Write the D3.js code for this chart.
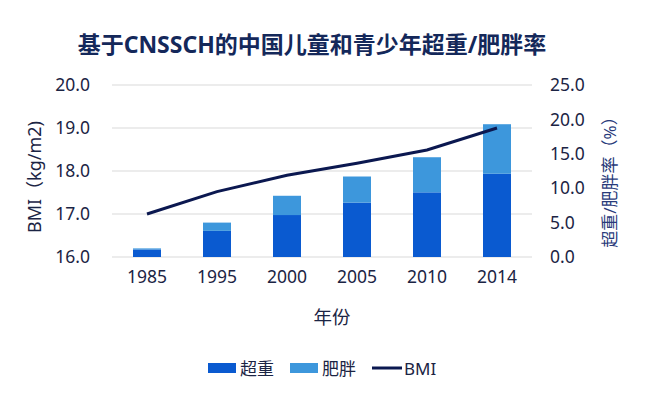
<!DOCTYPE html>
<html>
<head>
<meta charset="utf-8">
<script src="https://cdn.jsdelivr.net/npm/d3@7"></script>
<style>
  body { margin: 0; background: #fff; }
  svg text { font-family: "Noto Sans", "Noto Sans CJK SC", sans-serif; }
</style>
</head>
<body>
<div id="chart"></div>
<script>
// data
const years = ['1985', '1995', '2000', '2005', '2010', '2014'];
const overweight = [1.1, 3.8, 6.1, 7.9, 9.4, 12.1];
const obese = [0.15, 1.2, 2.8, 3.8, 5.1, 7.2];
const bmi = [17.0, 17.52, 17.9, 18.18, 18.49, 19.0];
const leftTicks = [16, 17, 18, 19, 20];
const rightTicks = [0, 5, 10, 15, 20, 25];

const width = 662, height = 398;
const margin = { top: 85, right: 130, bottom: 141, left: 112 };
const innerW = width - margin.left - margin.right;
const innerH = height - margin.top - margin.bottom;

const textColor = '#1b2444';
const c1 = '#0a5ad0', c2 = '#3d97dc', lineColor = '#0b1850';

const svg = d3.select('#chart').append('svg')
  .attr('width', width)
  .attr('height', height);

const g = svg.append('g')
  .attr('transform', `translate(${margin.left},${margin.top})`);

const x = d3.scaleBand().domain(years).range([0, innerW]).paddingInner(0.6).paddingOuter(0.3);
const yL = d3.scaleLinear().domain([16, 20]).range([innerH, 0]);
const yR = d3.scaleLinear().domain([0, 25]).range([innerH, 0]);

// gridlines
g.selectAll('.grid').data(leftTicks).enter().append('line')
  .attr('x1', 0).attr('x2', innerW)
  .attr('y1', d => yL(d)).attr('y2', d => yL(d))
  .attr('stroke', '#d9d9d9').attr('stroke-width', 1);

// left axis
const axL = g.append('g')
  .call(d3.axisLeft(yL).tickValues(leftTicks).tickFormat(d3.format('.1f')).tickSize(0).tickPadding(22));
axL.select('.domain').remove();
axL.selectAll('text').attr('font-size', 17.5).attr('fill', textColor);

// right axis
const axR = g.append('g')
  .attr('transform', `translate(${innerW},0)`)
  .call(d3.axisRight(yR).tickValues(rightTicks).tickFormat(d3.format('.1f')).tickSize(0).tickPadding(18));
axR.select('.domain').remove();
axR.selectAll('text').attr('font-size', 17.5).attr('fill', textColor);

// x axis
const axX = g.append('g')
  .attr('transform', `translate(0,${innerH})`)
  .call(d3.axisBottom(x).tickSize(0).tickPadding(14));
axX.select('.domain').remove();
axX.selectAll('text').attr('font-size', 17.5).attr('fill', textColor);

// stacked bars
const rows = years.map((y, i) => ({ year: y, overweight: overweight[i], obese: obese[i] }));
const stack = d3.stack().keys(['overweight', 'obese'])(rows);
const colors = [c1, c2];

g.selectAll('.layer').data(stack).enter().append('g')
  .attr('fill', (d, i) => colors[i])
  .selectAll('rect').data(d => d).enter().append('rect')
  .attr('x', d => x(d.data.year))
  .attr('width', x.bandwidth())
  .attr('y', d => yR(d[1]))
  .attr('height', d => yR(d[0]) - yR(d[1]));

// BMI line
const line = d3.line()
  .x((d, i) => x(years[i]) + x.bandwidth() / 2)
  .y(d => yL(d));

g.append('path').datum(bmi)
  .attr('d', line)
  .attr('fill', 'none')
  .attr('stroke', lineColor)
  .attr('stroke-width', 3);

// title
svg.append('text')
  .attr('x', 312).attr('y', 53)
  .attr('text-anchor', 'middle')
  .attr('font-size', 23).attr('font-weight', 'bold')
  .attr('fill', '#14285a')
  .text('基于CNSSCH的中国儿童和青少年超重/肥胖率');

// axis titles
svg.append('text')
  .attr('transform', `translate(41,177) rotate(-90)`)
  .attr('text-anchor', 'middle')
  .attr('font-size', 18).attr('fill', textColor)
  .text('BMI（kg/m2)');

svg.append('text')
  .attr('transform', `translate(616,178) rotate(-90)`)
  .attr('text-anchor', 'middle')
  .attr('font-size', 17).attr('fill', '#283a7a')
  .text('超重/肥胖率（%）');

svg.append('text')
  .attr('x', margin.left + innerW / 2 + 10).attr('y', 324)
  .attr('text-anchor', 'middle')
  .attr('font-size', 18.5).attr('fill', textColor)
  .text('年份');

// legend
const legend = svg.append('g').attr('transform', 'translate(208,368)');
const items = [
  { label: '超重', color: c1, type: 'rect', x: 0 },
  { label: '肥胖', color: c2, type: 'rect', x: 82 },
  { label: 'BMI', color: lineColor, type: 'line', x: 164 }
];
items.forEach(it => {
  if (it.type === 'rect') {
    legend.append('rect').attr('x', it.x).attr('y', -5).attr('width', 28).attr('height', 10).attr('fill', it.color);
  } else {
    legend.append('line').attr('x1', it.x).attr('x2', it.x + 30).attr('y1', 0).attr('y2', 0)
      .attr('stroke', it.color).attr('stroke-width', 3);
  }
  legend.append('text').attr('x', it.x + 32).attr('y', 6.5)
    .attr('font-size', 17).attr('fill', textColor).text(it.label);
});
</script>
</body>
</html>
